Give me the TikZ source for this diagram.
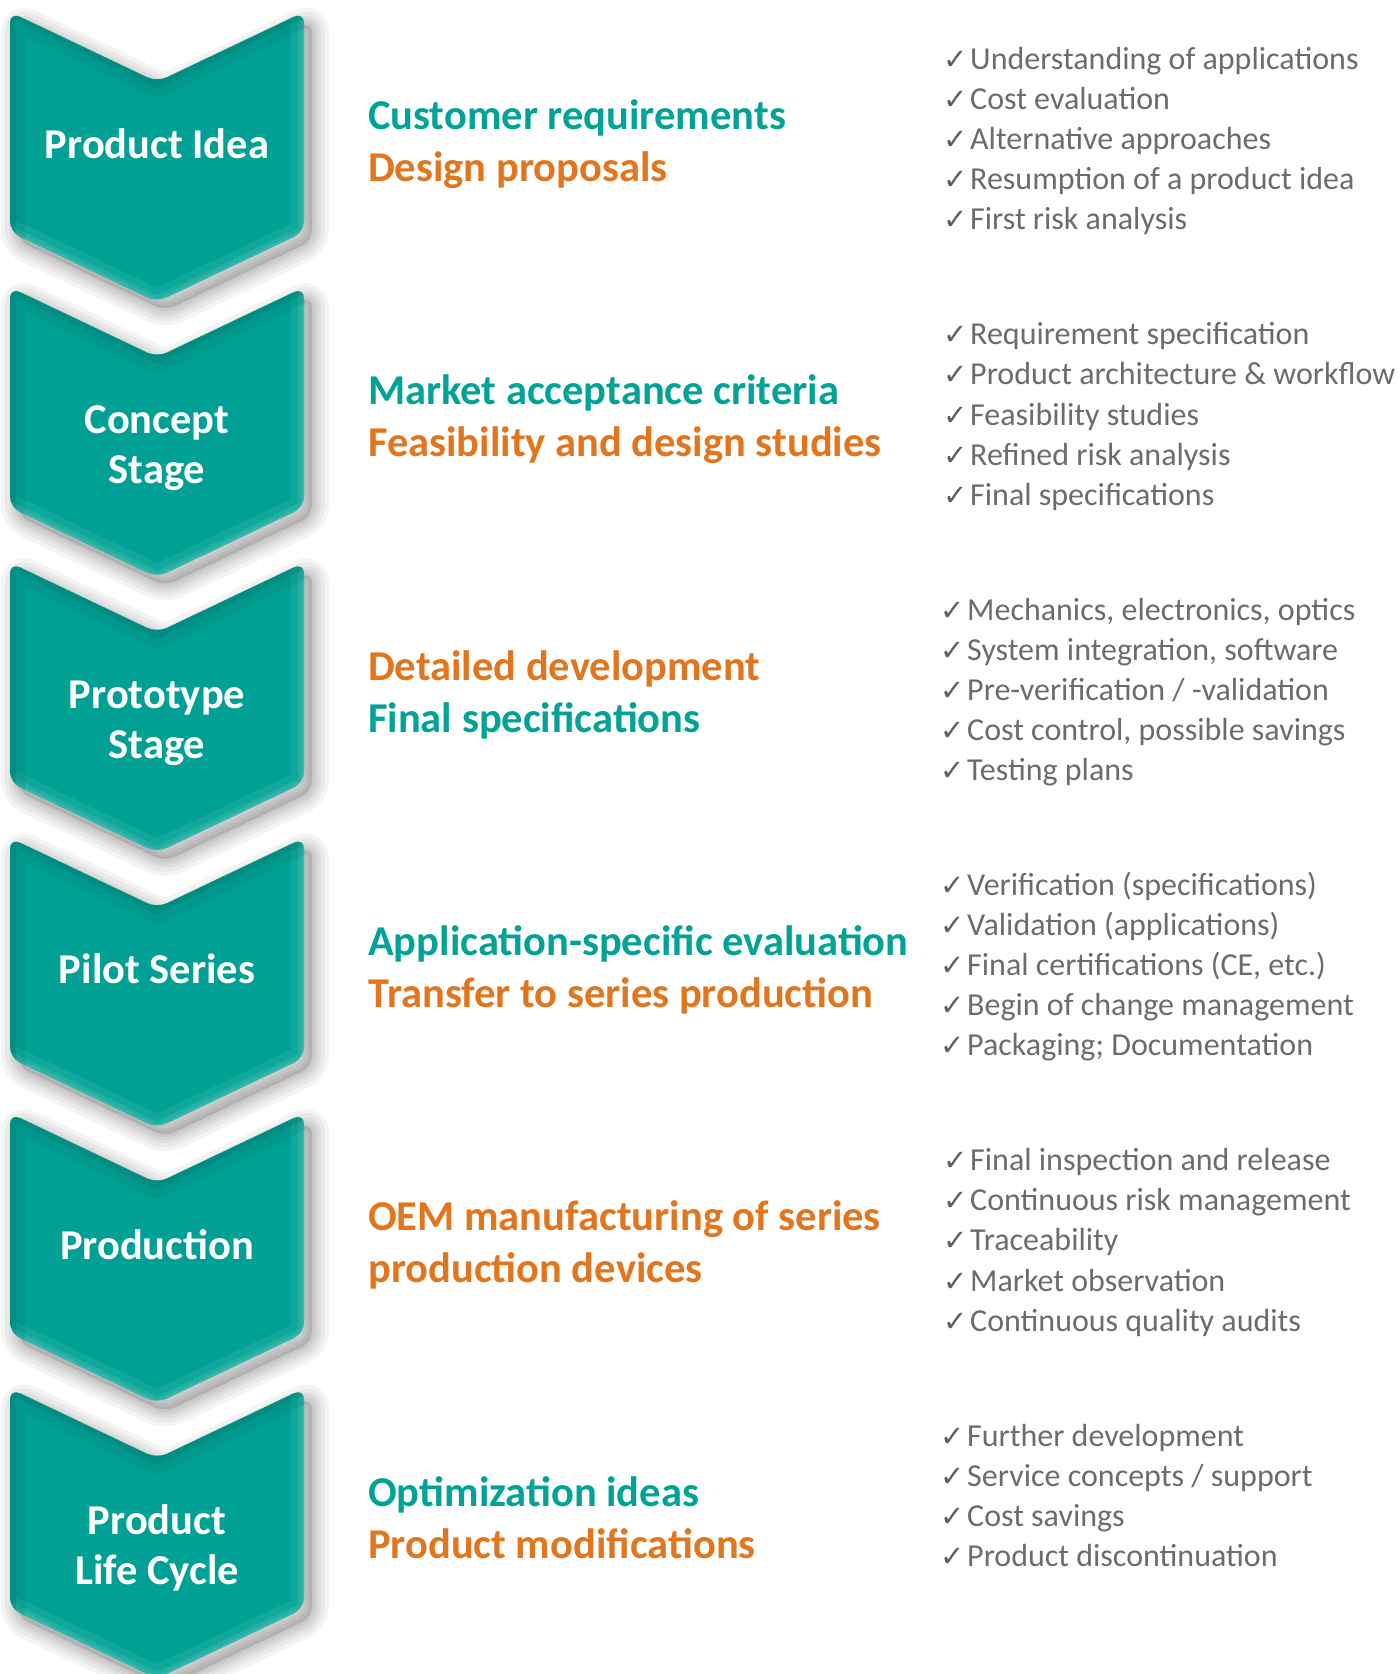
\documentclass[tikz,border=0pt]{standalone}
\usepackage{fontspec}
\setmainfont{Carlito}
\newfontfamily\symfont{DejaVu Sans}
\definecolor{chevfill}{HTML}{00A194}
\definecolor{chevdark}{HTML}{00766C}
\definecolor{chevlight}{HTML}{5CC8BC}
\definecolor{tealtext}{HTML}{00A396}
\definecolor{orangetext}{HTML}{E2761F}
\definecolor{graytext}{HTML}{6B6C70}
\definecolor{checkgray}{HTML}{5E5F62}
\tikzset{
  chevlabel/.style={text=white, font=\bfseries\fontsize{42.5}{50}\selectfont, inner sep=0pt, anchor=base},
  midteal/.style={text=tealtext, font=\bfseries\fontsize{42.5}{50}\selectfont, inner sep=0pt, anchor=base west},
  midorange/.style={text=orangetext, font=\bfseries\fontsize{42.5}{50}\selectfont, inner sep=0pt, anchor=base west},
  itemtext/.style={text=graytext, font=\fontsize{32}{38}\selectfont, inner sep=0pt, anchor=base west},
  checkmk/.style={text=checkgray, font=\symfont\fontsize{29}{34}\selectfont, inner sep=0pt, anchor=base east},
  chevpath/.style={rounded corners=11, insert path={(10,12) -- (157,82) -- (304,12) -- (304,232) -- (157,302) -- (10,232) -- cycle}}
}
\newcommand\itemlist[3]{%
  \foreach \t [count=\k from 0] in {#3} {
    \node[checkmk] (k#1-\k) at (#2-2.5, 69.5+40.1*\k+275.3*#1) {✓};
    \node[itemtext] (l#1-\k) at (#2, 69.5+40.1*\k+275.3*#1) {\t};
  }%
}
\begin{document}
\begin{tikzpicture}[x=1pt,y=-1pt]
\useasboundingbox[fill=white] (0,0) rectangle (1399,1674);
% shadows
\foreach \i in {0,...,5} {
  \begin{scope}[shift={(8,275.3*\i+9)}]
    \foreach \w in {34,26,18,12,6}
      \draw[black, draw opacity=0.045, line width=\w, line join=round, chevpath];
    \fill[black, fill opacity=0.12, chevpath];
  \end{scope}
}
% chevrons
\foreach \i in {0,...,5} {
  \begin{scope}[shift={(0,275.3*\i)}]
    \fill[chevfill, chevpath];
    \begin{scope}
      \clip[chevpath];
      \draw[chevlight, draw opacity=0.18, line width=26, line join=round] (304,0) -- (304,232) -- (157,302) -- (10,232);
      \draw[chevlight, draw opacity=0.25, line width=12, line join=round] (304,0) -- (304,232) -- (157,302) -- (10,232);
      \draw[chevlight, draw opacity=0.3, line width=5, line join=round] (304,0) -- (304,232) -- (157,302) -- (10,232);
      \draw[chevdark, draw opacity=0.2, line width=30, line join=round] (10,240) -- (10,12) -- (157,82) -- (304,12);
      \draw[chevdark, draw opacity=0.3, line width=12, line join=round] (10,240) -- (10,12) -- (157,82) -- (304,12);
    \end{scope}
  \end{scope}
}
% chevron labels
\node[chevlabel] (c0) at (157, 12+146) {Product Idea};
\node[chevlabel] (c1a) at (157, 12+146+275.3) {Concept};
\node[chevlabel] (c1b) at (157, 12+196+275.3) {Stage};
\node[chevlabel] (c2a) at (157, 12+146+275.3*2) {Prototype};
\node[chevlabel] (c2b) at (157, 12+196+275.3*2) {Stage};
\node[chevlabel] (c3) at (157, 12+146+275.3*3) {Pilot Series};
\node[chevlabel] (c4) at (157, 12+146+275.3*4) {Production};
\node[chevlabel] (c5a) at (157, 12+146+275.3*5) {Product};
\node[chevlabel] (c5b) at (157, 12+196+275.3*5) {Life Cycle};
% middle texts
\node[midteal]   (m0a) at (368, 129.5) {Customer requirements};
\node[midorange] (m0b) at (368, 181.5) {Design proposals};
\node[midteal]   (m1a) at (368, 129.5+275.3) {Market acceptance criteria};
\node[midorange] (m1b) at (368, 181.5+275.3) {Feasibility and design studies};
\node[midorange] (m2a) at (368, 129.5+275.3*2) {Detailed development};
\node[midteal]   (m2b) at (368, 181.5+275.3*2) {Final specifications};
\node[midteal]   (m3a) at (368, 129.5+275.3*3) {Application-specific evaluation};
\node[midorange] (m3b) at (368, 181.5+275.3*3) {Transfer to series production};
\node[midorange] (m4a) at (368, 129.5+275.3*4) {OEM manufacturing of series};
\node[midorange] (m4b) at (368, 181.5+275.3*4) {production devices};
\node[midteal]   (m5a) at (368, 129.5+275.3*5) {Optimization ideas};
\node[midorange] (m5b) at (368, 181.5+275.3*5) {Product modifications};
% lists
\itemlist{0}{970}{Understanding of applications, Cost evaluation, Alternative approaches, Resumption of a product idea, First risk analysis}
\itemlist{1}{970}{Requirement specification, Product architecture \& workflow, Feasibility studies, Refined risk analysis, Final specifications}
\itemlist{2}{967}{{Mechanics, electronics, optics}, {System integration, software}, Pre-verification / -validation, {Cost control, possible savings}, Testing plans}
\itemlist{3}{967}{Verification (specifications), Validation (applications), {Final certifications (CE, etc.)}, Begin of change management, Packaging; Documentation}
\itemlist{4}{970}{Final inspection and release, Continuous risk management, Traceability, Market observation, Continuous quality audits}
\itemlist{5}{967}{Further development, Service concepts / support, Cost savings, Product discontinuation}
\end{tikzpicture}
\end{document}
